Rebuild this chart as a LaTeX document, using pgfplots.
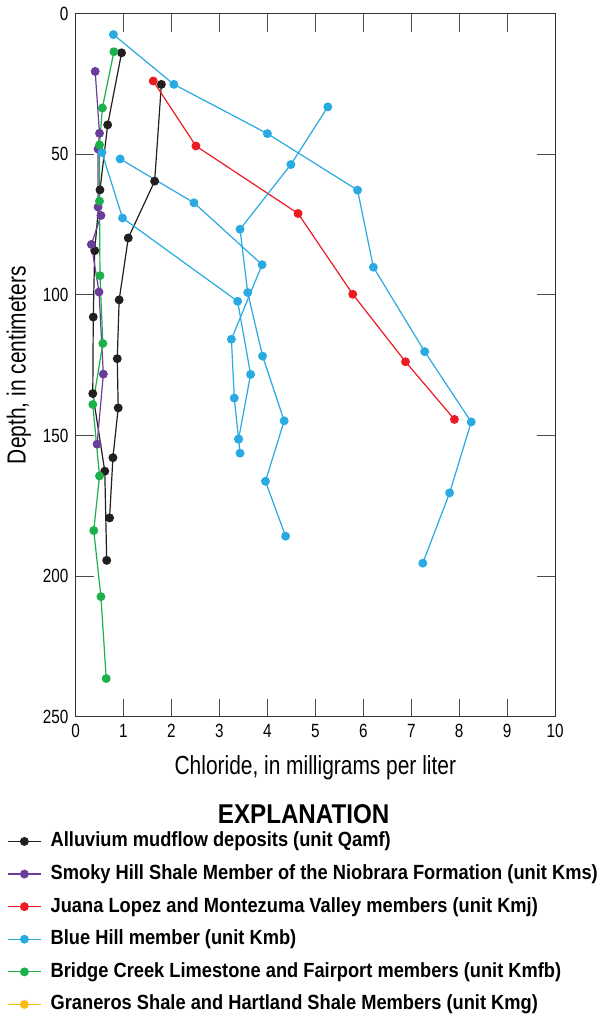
\documentclass[border=0pt]{standalone}
\usepackage{fontspec}
\setmainfont[FakeStretch=0.8, BoldFeatures={FakeStretch=0.89}]{Liberation Sans}
\usepackage{pgfplots}
\pgfplotsset{compat=1.18}

\definecolor{cQamf}{HTML}{231F20}
\definecolor{cKms}{HTML}{6A3D9A}
\definecolor{cKmj}{HTML}{ED1C24}
\definecolor{cKmb}{HTML}{29ABE2}
\definecolor{cKmfb}{HTML}{1DB14B}
\definecolor{cKmg}{HTML}{FDB913}

\begin{document}
\begin{tikzpicture}
\begin{axis}[
  name=ax,
  scale only axis,
  width=238.35pt, height=349.5pt,
  xmin=0, xmax=10, ymin=0, ymax=250,
  y dir=reverse,
  xtick={0,1,...,10}, ytick={0,50,...,250},
  tick align=inside,
  major tick length=9pt,
  tick style={black!70, line width=0.5pt},
  axis line style={black!80, line width=0.6pt},
  ticklabel style={font=\fontsize{9.5}{11}\selectfont},
  /pgf/number format/assume math mode=true,
  xlabel={Chloride, in milligrams per liter},
  ylabel={Depth, in centimeters},
  label style={font=\fontsize{13}{15}\selectfont},
  xlabel style={yshift=-2pt},
  ylabel style={yshift=-1pt},
  every axis plot/.append style={line width=0.6pt, mark=*, mark size=1.9pt},
  legend image code/.code={\draw[mark repeat=2,mark phase=2,#1] plot coordinates {(0pt,0pt) (8.25pt,0pt) (16.5pt,0pt)};},
  legend cell align=left,
  legend style={at={(0,0)}, anchor=north west, xshift=-34.15pt, yshift=-57pt,
    draw=none, fill=none, inner sep=0pt,
    font=\bfseries\fontsize{10.2}{12}\selectfont,
    nodes={inner sep=0pt, text height=7.5pt, text depth=2pt},
    row sep=6.7pt, column sep=4.5pt},
]
% Alluvium mudflow deposits (two profiles)
\addplot[color=cQamf, mark options={fill=cQamf}] coordinates {
  (0.96,14.0) (0.67,39.6) (0.51,62.7) (0.40,84.3) (0.37,107.9) (0.36,135.1) (0.61,162.7) (0.65,194.4)
};
\addlegendentry{Alluvium mudflow deposits (unit Qamf)}
\addplot[color=cQamf, mark options={fill=cQamf}, forget plot] coordinates {
  (1.79,25.2) (1.65,59.6) (1.10,79.8) (0.91,101.8) (0.87,122.7) (0.89,140.2) (0.78,157.9) (0.71,179.3)
};
% Smoky Hill Shale Member
\addplot[color=cKms, mark options={fill=cKms}] coordinates {
  (0.41,20.6) (0.50,42.6) (0.47,48.2) (0.47,68.8) (0.53,71.8) (0.33,82.1) (0.49,99.0) (0.58,128.2) (0.45,153.1)
};
\addlegendentry{Smoky Hill Shale Member of the Niobrara Formation (unit Kms)}
% Juana Lopez and Montezuma Valley
\addplot[color=cKmj, mark options={fill=cKmj}] coordinates {
  (1.62,24.0) (2.51,47.1) (4.64,71.1) (5.78,99.8) (6.88,123.8) (7.90,144.3)
};
\addlegendentry{Juana Lopez and Montezuma Valley members (unit Kmj)}
% Blue Hill member (four profiles)
\addplot[color=cKmb, mark options={fill=cKmb}] coordinates {
  (0.79,7.5) (2.05,25.2) (4.00,42.7) (5.88,62.8) (6.21,90.2) (7.28,120.2) (8.25,145.2) (7.80,170.4) (7.24,195.4)
};
\addlegendentry{Blue Hill member (unit Kmb)}
\addplot[color=cKmb, mark options={fill=cKmb}, forget plot] coordinates {
  (5.26,33.2) (4.49,53.7) (3.43,76.7) (3.59,99.2) (3.90,121.8) (4.35,144.8) (3.96,166.3) (4.38,185.8)
};
\addplot[color=cKmb, mark options={fill=cKmb}, forget plot] coordinates {
  (0.93,51.7) (2.47,67.3) (3.89,89.3) (3.25,115.8) (3.31,136.7) (3.40,151.3) (3.43,156.3)
};
\addplot[color=cKmb, mark options={fill=cKmb}, forget plot] coordinates {
  (0.55,49.4) (0.98,72.7) (3.38,102.3) (3.65,128.3) (3.40,151.3)
};
% Bridge Creek Limestone and Fairport
\addplot[color=cKmfb, mark options={fill=cKmfb}] coordinates {
  (0.80,13.6) (0.56,33.6) (0.50,46.7) (0.50,66.7) (0.51,93.2) (0.57,117.3) (0.36,139.0) (0.50,164.4) (0.38,183.8) (0.53,207.3) (0.64,236.4)
};
\addlegendentry{Bridge Creek Limestone and Fairport members (unit Kmfb)}
% Graneros Shale and Hartland Shale (no samples plotted)
\addlegendimage{color=cKmg, line width=0.6pt, mark=*, mark size=1.9pt, mark options={fill=cKmg}}
\addlegendentry{Graneros Shale and Hartland Shale Members (unit Kmg)}
\end{axis}
\node[font=\bfseries\fontsize{13.5}{15}\selectfont] at ([xshift=113.35pt,yshift=-48.5pt]ax.south west) {EXPLANATION};
% page margins as in the reference
\path ([xshift=-36.65pt]ax.south west) ([xshift=263.35pt]ax.south west);
\end{tikzpicture}
\end{document}
